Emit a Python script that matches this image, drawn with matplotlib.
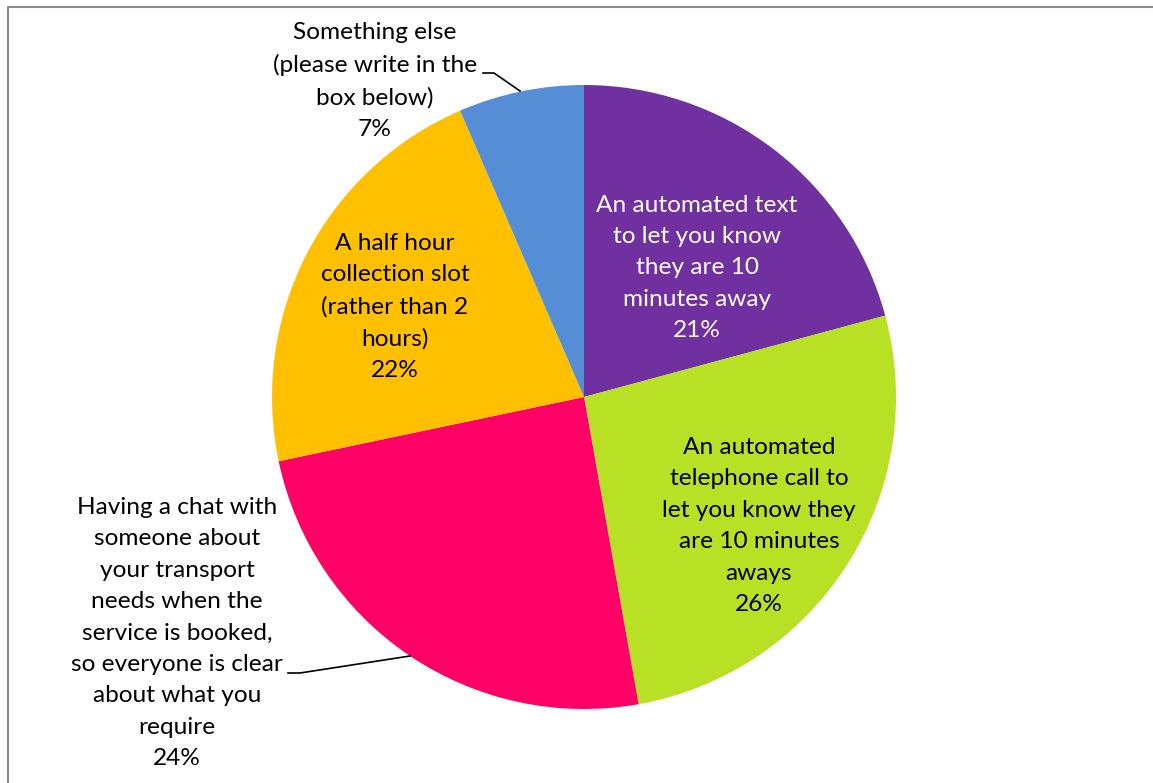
import matplotlib
matplotlib.use("Agg")
import matplotlib.pyplot as plt

categories = [
    "An automated text\nto let you know\nthey are 10\nminutes away",
    "An automated\ntelephone call to\nlet you know they\nare 10 minutes\naways",
    "Having a chat with\nsomeone about\nyour transport\nneeds when the\nservice is booked,\nso everyone is clear\nabout what you\nrequire",
    "A half hour\ncollection slot\n(rather than 2\nhours)",
    "Something else\n(please write in the\nbox below)",
]
# slice shares
values = [20.8, 26.4, 24.5, 21.8, 6.5]
# percentages printed on the labels
pct_labels = ["21%", "26%", "24%", "22%", "7%"]
colors = ["#7030A0", "#B8E024", "#FF0066", "#FFC000", "#558ED5"]
text_colors = ["white", "black", "black", "black", "black"]

W, H = 1153, 783
fig = plt.figure(figsize=(W / 100, H / 100), dpi=100)
ax = fig.add_axes([0, 0, 1, 1])

cx, cy, r = 584, H - 397, 312
ax.pie(values, colors=colors, startangle=90, counterclock=False,
       center=(cx, cy), radius=r, frame=True,
       wedgeprops=dict(linewidth=0))
ax.set_xlim(0, W)
ax.set_ylim(0, H)
ax.set_aspect("equal")
ax.axis("off")

# label centres (pixel coords, y from top)
label_pos = [(697, 268), (759, 526), (177, 633), (395, 307), (375, 81)]
for cat, p, (x, y), tc in zip(categories, pct_labels, label_pos, text_colors):
    ax.text(x, H - y, f"{cat}\n{p}", ha="center", va="center",
            fontsize=17.6, family="Lato", color=tc, linespacing=1.61)

# leader lines
ax.plot([483, 494, 520], [H - 73, H - 73, H - 91], color="black", lw=1.2)
ax.plot([288, 300, 410], [H - 673, H - 673, H - 656], color="black", lw=1.2)

# border
ax.plot([7.5, 7.5, W + 5], [-5, H - 6.5, H - 6.5], color="#8C8C8C", lw=1.5,
        clip_on=False)

fig.savefig("out.png", dpi=100)
